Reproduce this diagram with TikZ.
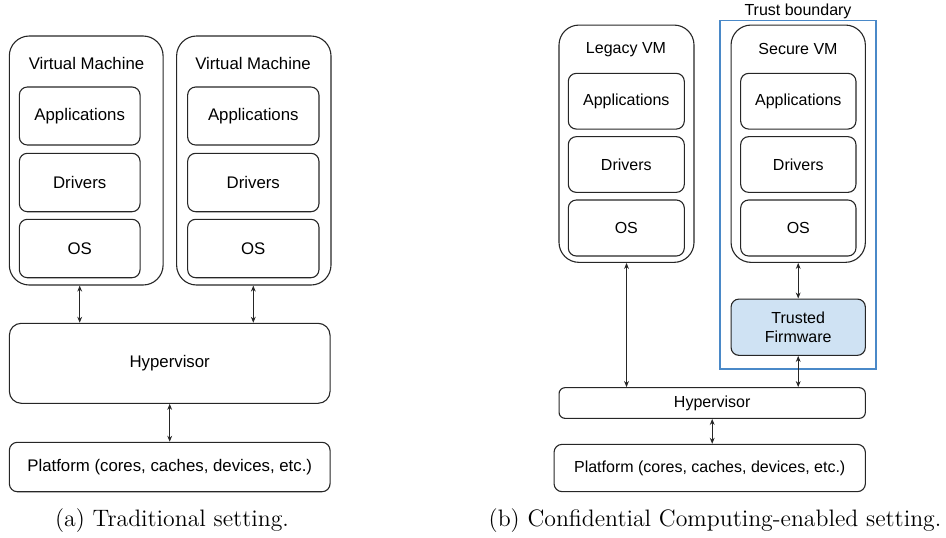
\documentclass[tikz,border=0pt]{standalone}
\usepackage{fontspec}
\newfontfamily\diagfont{Liberation Sans}
\usetikzlibrary{arrows.meta}
\definecolor{trustblue}{HTML}{4A89C8}
\definecolor{tffill}{HTML}{CFE2F3}
\begin{document}
\begin{tikzpicture}[x=0.5pt,y=-0.5pt,
  box/.style={draw=black!85, line width=0.55pt, inner sep=0pt, font=\diagfont\fontsize{8.4}{10}\selectfont},
  rbox/.style={draw=black!85, line width=0.55pt, inner sep=0pt, font=\diagfont\fontsize{8}{9.6}\selectfont},
  lbl/.style={inner sep=0pt, font=\diagfont\fontsize{8.4}{10}\selectfont},
  rlbl/.style={inner sep=0pt, font=\diagfont\fontsize{8}{9.6}\selectfont},
  captxt/.style={inner sep=0pt, font=\fontsize{11.9}{14}\selectfont},
  arr/.style={{Stealth[length=3pt,width=2.4pt]}-{Stealth[length=3pt,width=2.4pt]}, line width=0.5pt, draw=black!85}
]
\useasboundingbox (0,0) rectangle (946,537);
% ---------- (a) ----------
\node[box, rounded corners=10pt, minimum width=76.9pt, minimum height=124.5pt] (vmA) at (86.2,160.5) {};
\node[lbl] (vmAt) at (86.5,63) {Virtual Machine};
\node[box, rounded corners=4pt, minimum width=60.35pt, minimum height=29pt] (appA) at (79.7,116) {Applications};
\node[box, rounded corners=4pt, minimum width=60.35pt, minimum height=29.2pt] (drvA) at (79.7,182.5) {Drivers};
\node[box, rounded corners=4pt, minimum width=60.35pt, minimum height=29.2pt] (osA) at (79.7,248.5) {OS};

\node[box, rounded corners=10pt, minimum width=77.2pt, minimum height=124.5pt] (vmB) at (253.8,160.5) {};
\node[lbl] (vmBt) at (253,63) {Virtual Machine};
\node[box, rounded corners=4pt, minimum width=65.65pt, minimum height=29pt] (appB) at (253.3,116) {Applications};
\node[box, rounded corners=4pt, minimum width=65.65pt, minimum height=29.2pt] (drvB) at (253.3,182.5) {Drivers};
\node[box, rounded corners=4pt, minimum width=65.65pt, minimum height=29.2pt] (osB) at (253.3,248.5) {OS};

\node[box, rounded corners=6pt, minimum width=160.35pt, minimum height=40pt] (hypA) at (169.7,363.3) {Hypervisor};
\node[box, rounded corners=4pt, minimum width=160.35pt, minimum height=24.7pt] (platA) at (169.7,467) {Platform (cores, caches, devices, etc.)};
\node[captxt] (capA) at (172,521) {(a) Traditional setting.};

\draw[arr] (vmA.south -| appA.center) -- (hypA.north -| appA.center);
\draw[arr] (vmB.south -| appB.center) -- (hypA.north -| appB.center);
\draw[arr] (hypA.south) -- (platA.north);

% ---------- (b) ----------
\node[draw=trustblue, line width=0.7pt, inner sep=0pt, minimum width=78pt, minimum height=174.15pt] (trust) at (798,194.85) {};
\node[rlbl] (trustt) at (798,11) {Trust boundary};

\node[rbox, rounded corners=10pt, minimum width=67.5pt, minimum height=118.65pt] (legacy) at (626.5,143.7) {};
\node[rlbl] (legacyt) at (626,50) {Legacy VM};
\node[rbox, rounded corners=4pt, minimum width=58pt, minimum height=27.85pt] (appC) at (626.3,101.2) {Applications};
\node[rbox, rounded corners=4pt, minimum width=58pt, minimum height=27.85pt] (drvC) at (626.3,164.5) {Drivers};
\node[rbox, rounded corners=4pt, minimum width=58pt, minimum height=28pt] (osC) at (626.3,228) {OS};

\node[rbox, rounded corners=10pt, minimum width=67.15pt, minimum height=118.65pt] (secure) at (798.2,143.7) {};
\node[rlbl] (securet) at (798,49) {Secure VM};
\node[rbox, rounded corners=4pt, minimum width=57.65pt, minimum height=27.85pt] (appD) at (798.3,101.2) {Applications};
\node[rbox, rounded corners=4pt, minimum width=57.65pt, minimum height=27.85pt] (drvD) at (798.3,164.5) {Drivers};
\node[rbox, rounded corners=4pt, minimum width=57.65pt, minimum height=28pt] (osD) at (798.3,228) {OS};

\node[rbox, fill=tffill, rounded corners=4pt, minimum width=67.15pt, minimum height=28.15pt, align=center] (tf) at (798.2,327.2) {Trusted\\Firmware};

\node[rbox, rounded corners=3pt, minimum width=153.15pt, minimum height=15.35pt] (hypB) at (712.2,403) {Hypervisor};
\node[rbox, rounded corners=4pt, minimum width=155.65pt, minimum height=23.65pt] (platB) at (709.7,468) {Platform (cores, caches, devices, etc.)};
\node[captxt] (capB) at (715,521) {(b) Confidential Computing-enabled setting.};

\draw[arr] (legacy.south) -- (hypB.north -| legacy.south);
\draw[arr] (secure.south) -- (tf.north);
\draw[arr] (tf.south) -- (hypB.north -| tf.south);
\draw[arr] (hypB.south) -- (platB.north -| hypB.south);
\end{tikzpicture}
\end{document}
